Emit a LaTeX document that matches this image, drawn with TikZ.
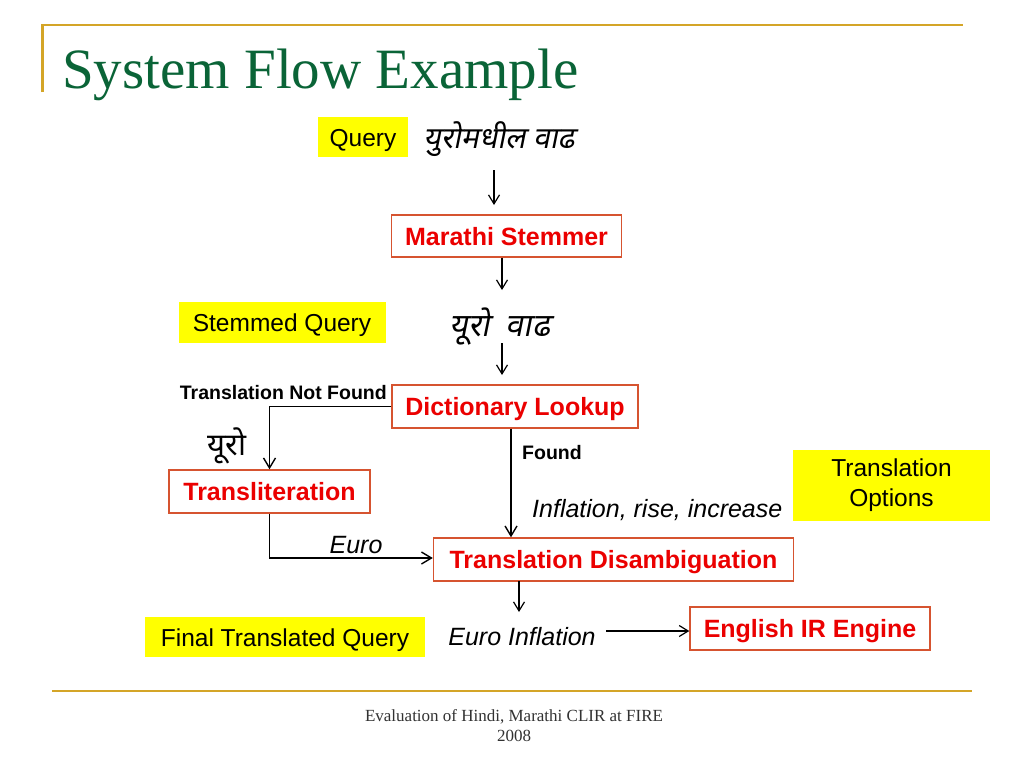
\documentclass[tikz,border=0pt]{standalone}
\usepackage{fontspec}
\setmainfont{Liberation Sans}
\newfontfamily\serifface{Liberation Serif}
\newfontfamily\deva[Script=Devanagari]{Noto Sans}
\newfontfamily\devasl[Script=Devanagari,FakeSlant=0.2]{Noto Sans}
\usetikzlibrary{arrows.meta}
\definecolor{titlegreen}{RGB}{10,100,55}
\definecolor{gold}{RGB}{212,165,40}
\definecolor{boxred}{RGB}{214,84,48}
\definecolor{textred}{RGB}{235,0,0}
\definecolor{hl}{RGB}{255,255,0}
\definecolor{footgray}{RGB}{50,50,50}
\tikzset{
  procbox/.style={draw=boxred, line width=1.4pt, fill=white, text=textred,
    font=\fontsize{25}{30}\selectfont\bfseries, inner sep=0pt,
    text height=18pt, text depth=0pt},
  hlbase/.style={fill=hl, inner sep=0pt, align=center, font=\fontsize{24.5}{30}\selectfont},
  hlbox/.style={hlbase, text height=18pt, text depth=0pt},
  lbl/.style={inner sep=0pt, font=\fontsize{25}{30}\selectfont\itshape},
  smallbold/.style={inner sep=0pt, font=\fontsize{19.5}{23}\selectfont\bfseries},
  arr/.style={-{Straight Barb[length=10pt,width=12pt,line width=1.4pt]}, line width=1.3pt},
  thinarr/.style={-{Straight Barb[length=9pt,width=11pt,line width=1.2pt]}, line width=1.1pt},
  goldline/.style={draw=gold, line width=2.6pt}
}
\begin{document}
\begin{tikzpicture}[x=1pt,y=-1pt]
\useasboundingbox[fill=white] (0,0) rectangle (1024,768);
% frame lines
\coordinate (tl0) at (42.5,92);
\coordinate (tl1) at (42.5,25);
\coordinate (tl2) at (963,25);
\draw[goldline] (tl0) -- (tl1) -- (tl2);
\coordinate (bl1) at (52,691);
\coordinate (bl2) at (972,691);
\draw[goldline] (bl1) -- (bl2);
% title
\node[anchor=base west, inner sep=0pt, text=titlegreen,
  font=\serifface\fontsize{57}{62}\selectfont] (title) at (62,88) {System Flow Example};
% footer
\node[inner sep=0pt, text=footgray, align=center,
  font=\serifface\fontsize{17}{20}\selectfont] (foot) at (514,726) {Evaluation of Hindi, Marathi CLIR at FIRE\\2008};

% query row
\node[hlbox, minimum width=90pt, minimum height=40pt] (qlab) at (363,137) {Query};
\node[inner sep=0pt, font=\devasl\fontsize{30}{34}\selectfont] (qtext) at (499,139) {युरोमधील वाढ};
\coordinate (a1s) at (494,170);
\coordinate (a1e) at (494,205);
\draw[thinarr] (a1s) -- (a1e);

\node[procbox, minimum width=230pt, minimum height=42pt] (ms) at (506.5,236) {Marathi Stemmer};
\coordinate (a2e) at (502,290);
\draw[thinarr] (ms.south -| a2e) -- (a2e);

\node[hlbox, minimum width=207pt, minimum height=41pt] (sqlab) at (282,322) {Stemmed Query};
\node[inner sep=0pt, font=\devasl\fontsize{32}{36}\selectfont] (sqtext) at (500,327) {यूरो\hspace{16pt}वाढ};
\coordinate (a3s) at (502,343);
\coordinate (a3e) at (502,375);
\draw[thinarr] (a3s) -- (a3e);

\node[procbox, minimum width=246pt, minimum height=43pt] (dl) at (515,406.5) {Dictionary Lookup};
\node[smallbold, anchor=east] (tnf) at (387,393) {Translation Not Found};
\node[inner sep=0pt, font=\deva\fontsize{31}{34}\selectfont] (euroD) at (227,446) {यूरो};

\node[procbox, minimum width=201pt, minimum height=43pt] (tr) at (269.5,491.5) {Transliteration};
\node[procbox, minimum width=360pt, minimum height=43pt] (td) at (613.5,559.5) {Translation Disambiguation};

\draw[arr] (dl.west) -| (tr.north);
\draw[arr] (tr.south) |- ([yshift=1.5pt]td.west);
\coordinate (fx) at (511,0);
\draw[arr] (dl.south -| fx) -- (td.north -| fx);

\node[smallbold, anchor=west] (found) at (522,453) {Found};
\node[lbl, anchor=base west] (opts) at (532,517) {Inflation, rise, increase};
\node[hlbase, minimum width=197pt, minimum height=71pt] (tolab) at (891.5,485.5) {Translation\\Options};
\node[lbl, anchor=base] (euro) at (356,553) {Euro};

\coordinate (a7s) at (519,581);
\coordinate (a7e) at (519,612);
\draw[thinarr] (a7s) -- (a7e);

\node[hlbox, minimum width=280pt, minimum height=40pt] (ftq) at (285,637) {Final Translated Query};
\node[lbl] (ei) at (522,637) {Euro Inflation};
\node[procbox, minimum width=240pt, minimum height=43pt] (eir) at (810,628.5) {English IR Engine};
\coordinate (a8s) at (606,631);
\draw[thinarr] (a8s) -- (a8s -| eir.west);
\end{tikzpicture}
\end{document}
